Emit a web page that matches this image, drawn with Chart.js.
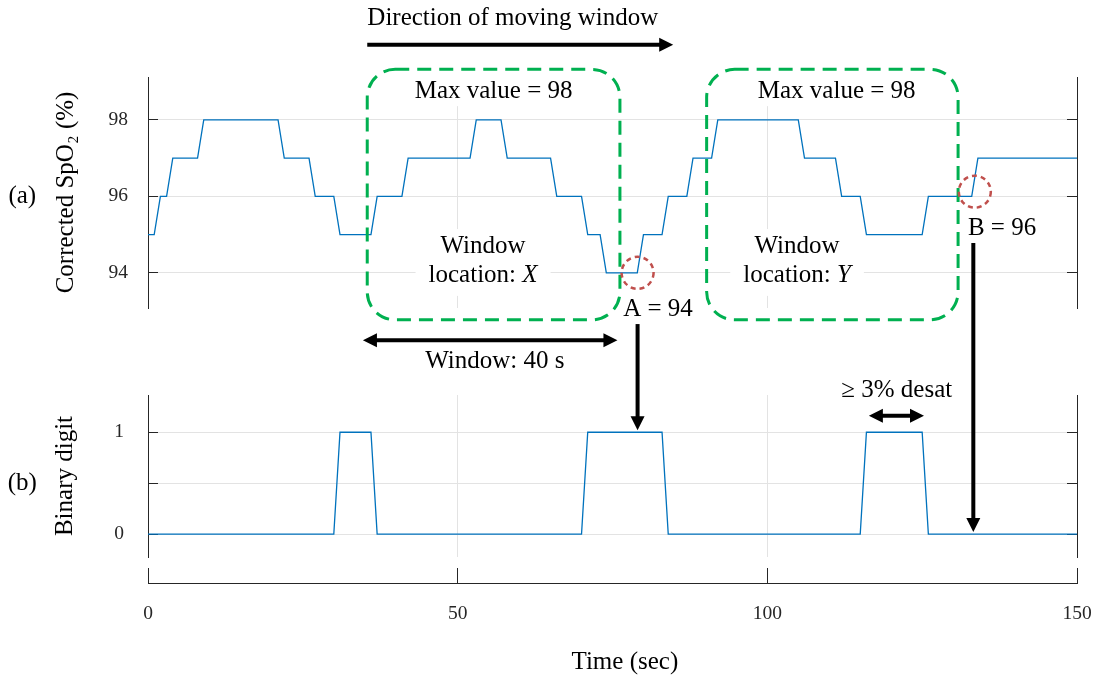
<!DOCTYPE html>
<html lang="en">
<head>
<meta charset="UTF-8">
<title>Moving-window desaturation detection</title>
<script src="https://cdn.jsdelivr.net/npm/chart.js"></script>
<style>
    * { margin: 0; padding: 0; box-sizing: border-box; }
    body { background: #fff; width: 1104px; height: 675px; overflow: hidden; }
    .stage { position: relative; width: 1104px; height: 675px; }
    .stage canvas { position: absolute; left: 0; top: 0; }
</style>
</head>
<body>
<div class="stage">
    <canvas id="time-axis" width="1104" height="675"></canvas>
    <canvas id="binary-chart" width="1104" height="675"></canvas>
    <canvas id="spo2-chart" width="1104" height="675"></canvas>
</div>

<script>
// Corrected SpO2 (%), one sample per second, t = 0..150 s
const spo2 = [
    95, 95, 96, 96, 97, 97, 97, 97, 97, 98, 98, 98, 98, 98, 98, 98, 98, 98, 98, 98, 98, 98, 97, 97, 97,
    97, 97, 96, 96, 96, 96, 95, 95, 95, 95, 95, 95, 96, 96, 96, 96, 96, 97, 97, 97, 97, 97, 97, 97, 97,
    97, 97, 97, 98, 98, 98, 98, 98, 97, 97, 97, 97, 97, 97, 97, 97, 96, 96, 96, 96, 96, 95, 95, 95, 94,
    94, 94, 94, 94, 94, 95, 95, 95, 95, 96, 96, 96, 96, 97, 97, 97, 97, 98, 98, 98, 98, 98, 98, 98, 98,
    98, 98, 98, 98, 98, 98, 97, 97, 97, 97, 97, 97, 96, 96, 96, 96, 95, 95, 95, 95, 95, 95, 95, 95, 95,
    95, 96, 96, 96, 96, 96, 96, 96, 96, 97, 97, 97, 97, 97, 97, 97, 97, 97, 97, 97, 97, 97, 97, 97, 97,
    97
];

// Desaturation flag (1 = at least 3 % below the window max), same time base
const binaryDigit = [
    0, 0, 0, 0, 0, 0, 0, 0, 0, 0, 0, 0, 0, 0, 0, 0, 0, 0, 0, 0, 0, 0, 0, 0, 0,
    0, 0, 0, 0, 0, 0, 1, 1, 1, 1, 1, 1, 0, 0, 0, 0, 0, 0, 0, 0, 0, 0, 0, 0, 0,
    0, 0, 0, 0, 0, 0, 0, 0, 0, 0, 0, 0, 0, 0, 0, 0, 0, 0, 0, 0, 0, 1, 1, 1, 1,
    1, 1, 1, 1, 1, 1, 1, 1, 1, 0, 0, 0, 0, 0, 0, 0, 0, 0, 0, 0, 0, 0, 0, 0, 0,
    0, 0, 0, 0, 0, 0, 0, 0, 0, 0, 0, 0, 0, 0, 0, 0, 1, 1, 1, 1, 1, 1, 1, 1, 1,
    1, 0, 0, 0, 0, 0, 0, 0, 0, 0, 0, 0, 0, 0, 0, 0, 0, 0, 0, 0, 0, 0, 0, 0, 0,
    0
];

const timeTicks = [0, 50, 100, 150];
const spo2Ticks = [94, 96, 98];
const binaryTicks = [0, 0.5, 1];

const windowSec = 40;
const desatThreshold = 3;

// annotation placement, in the data units of each panel
const windowBoxes = [
    { from: 35.4, to: 76.2, maxAt: 55.8, textAt: 54.1, name: 'X' },
    { from: 90.2, to: 130.8, maxAt: 111.2, textAt: 104.8, name: 'Y' }
];
const pointA = { t: 79, label: 'A', circleAt: 79.05, textAt: 82.35 };
const pointB = { t: 133, label: 'B', circleAt: 133.5, textAt: 137.9 };

const SERIF = '"Liberation Serif", "Times New Roman", serif';
const AXIS = '#262626';
const GRID = '#e3e3e3';
const LINE = '#0072bd';
const GREEN = '#00b050';
const RED = '#c0504d';
const FONT = '25px ' + SERIF;
const TICK_SIZE = 19.5;

Chart.defaults.font.family = SERIF;
Chart.defaults.color = AXIS;
Chart.defaults.animation = false;
Chart.defaults.responsive = false;
Chart.defaults.devicePixelRatio = 1;
Chart.defaults.plugins.legend.display = false;
Chart.defaults.plugins.tooltip.enabled = false;

const toPoints = arr => arr.map((v, i) => ({ x: i, y: v }));
const fixTicks = values => scale => { scale.ticks = values.map(v => ({ value: v })); };
const innerTime = timeTicks.filter(v => v > timeTicks[0] && v < timeTicks[timeTicks.length - 1]);

// shared layout of one panel: left/right y axes with inward ticks, x grid only
function panelOptions(o) {
    return {
        layout: { padding: { left: 0, right: 0, top: o.top, bottom: 675 - o.bottom } },
        scales: {
            x: {
                type: 'linear', min: 0, max: 150,
                afterBuildTicks: fixTicks(innerTime),
                afterFit: s => { s.height = 0; },
                ticks: { display: false },
                border: { display: false },
                grid: { color: GRID, drawTicks: false }
            },
            y: {
                type: 'linear', position: 'left', min: o.min, max: o.max,
                afterBuildTicks: fixTicks(o.ticks),
                afterFit: s => { s.width = 148; },
                ticks: { font: { size: TICK_SIZE }, color: AXIS, padding: o.tickPad, callback: o.format },
                border: { color: AXIS, width: 1 },
                grid: { color: GRID, tickColor: AXIS, tickLength: -10 },
                title: {
                    display: true, text: o.title, color: '#000',
                    font: { size: 25, lineHeight: 1.2 }, padding: { top: o.titlePad, bottom: 0 }
                }
            },
            yRight: {
                type: 'linear', position: 'right', min: o.min, max: o.max,
                afterBuildTicks: fixTicks(o.ticks),
                afterFit: s => { s.width = 27; },
                ticks: { display: false },
                border: { color: AXIS, width: 1 },
                grid: { drawOnChartArea: false, tickColor: AXIS, tickLength: -10 }
            }
        }
    };
}

function lineSet(values) {
    return {
        data: toPoints(values),
        borderColor: LINE,
        borderWidth: 1.3,
        pointRadius: 0,
        tension: 0,
        xAxisID: 'x',
        yAxisID: 'y'
    };
}

// detached time axis under panel (b)
const timeAxis = new Chart(document.getElementById('time-axis'), {
    type: 'line',
    data: { datasets: [] },
    options: {
        layout: { padding: { left: 148, right: 27, top: 568, bottom: 0 } },
        scales: {
            x: {
                type: 'linear', min: 0, max: 150,
                afterBuildTicks: fixTicks(timeTicks),
                afterFit: s => { s.height = 92; s.paddingLeft = 0; s.paddingRight = 0; },
                ticks: { font: { size: TICK_SIZE }, color: AXIS, padding: 19, maxRotation: 0 },
                border: { color: AXIS, width: 1 },
                grid: { color: AXIS, drawTicks: false, lineWidth: 1 }
            },
            y: { display: false, min: 0, max: 1 }
        }
    }
});

const binaryChart = new Chart(document.getElementById('binary-chart'), {
    type: 'line',
    data: { datasets: [lineSet(binaryDigit)] },
    options: panelOptions({
        top: 395, bottom: 557, min: -0.225, max: 1.366,
        ticks: binaryTicks, tickPad: 34, titlePad: 50,
        title: 'Binary digit',
        format: v => (v === 0 || v === 1) ? String(v) : ''
    })
});

// ---- overlay helpers ----
function label(ctx, str, x, y, italic) {
    ctx.font = (italic ? 'italic ' : '') + FONT;
    ctx.fillText(str, x, y);
}

function locationWidth(ctx, name) {
    ctx.font = FONT;
    const w1 = ctx.measureText('location: ').width;
    ctx.font = 'italic ' + FONT;
    return w1 + ctx.measureText(name).width;
}

function drawLocation(ctx, cx, y1, y2, name) {
    ctx.textAlign = 'center';
    label(ctx, 'Window', cx, y1);
    const w = locationWidth(ctx, name);
    ctx.textAlign = 'left';
    ctx.font = FONT;
    const w1 = ctx.measureText('location: ').width;
    label(ctx, 'location: ', cx - w / 2, y2);
    label(ctx, name, cx - w / 2 + w1, y2, true);
    ctx.textAlign = 'center';
}

function head(ctx, x, y, ang) {
    const L = 14, W = 7;
    const bx = x - L * Math.cos(ang), by = y - L * Math.sin(ang);
    ctx.beginPath();
    ctx.moveTo(x, y);
    ctx.lineTo(bx - W * Math.sin(ang), by + W * Math.cos(ang));
    ctx.lineTo(bx + W * Math.sin(ang), by - W * Math.cos(ang));
    ctx.closePath();
    ctx.fill();
}

function arrow(ctx, x1, y1, x2, y2, both) {
    const ang = Math.atan2(y2 - y1, x2 - x1);
    const c = Math.cos(ang) * 10, s = Math.sin(ang) * 10;
    ctx.save();
    ctx.strokeStyle = '#000';
    ctx.fillStyle = '#000';
    ctx.lineWidth = 4;
    ctx.beginPath();
    ctx.moveTo(both ? x1 + c : x1, both ? y1 + s : y1);
    ctx.lineTo(x2 - c, y2 - s);
    ctx.stroke();
    head(ctx, x2, y2, ang);
    if (both) head(ctx, x1, y1, ang + Math.PI);
    ctx.restore();
}

function dottedCircle(ctx, x, y) {
    ctx.save();
    ctx.strokeStyle = RED;
    ctx.lineWidth = 2.5;
    ctx.setLineDash([5, 4]);
    ctx.beginPath();
    ctx.arc(x, y, 16, 0, Math.PI * 2);
    ctx.stroke();
    ctx.restore();
}

const windowMax = b => Math.max(...spo2.slice(Math.ceil(b.from), Math.floor(b.to) + 1));

const overlay = {
    id: 'overlay',
    // white backing behind the in-panel texts, hiding the grid lines there
    beforeDatasetsDraw(chart) {
        const { ctx } = chart;
        const X = v => chart.scales.x.getPixelForValue(v);
        const Y = v => chart.scales.y.getPixelForValue(v);
        ctx.save();
        ctx.fillStyle = '#fff';
        windowBoxes.forEach(b => {
            ctx.font = FONT;
            const mw = ctx.measureText('Max value = ' + windowMax(b)).width;
            ctx.fillRect(X(b.maxAt) - mw / 2 - 10, Y(98.75) - 16, mw + 20, 31);
            const lw = locationWidth(ctx, b.name);
            const top = Y(94.70) - 17, bottom = Y(93.92) + 20;
            ctx.fillRect(X(b.textAt) - lw / 2 - 13, top, lw + 26, bottom - top);
        });
        ctx.restore();
    },
    afterDatasetsDraw(chart) {
        const { ctx } = chart;
        const X = v => chart.scales.x.getPixelForValue(v);
        const Y = v => chart.scales.y.getPixelForValue(v);
        const YB = v => binaryChart.scales.y.getPixelForValue(v);

        ctx.save();
        ctx.fillStyle = '#000';
        ctx.textAlign = 'center';
        ctx.textBaseline = 'middle';

        // moving windows
        windowBoxes.forEach(b => {
            ctx.save();
            ctx.strokeStyle = GREEN;
            ctx.lineWidth = 3;
            ctx.setLineDash([14, 8]);
            ctx.beginPath();
            ctx.roundRect(X(b.from), Y(99.32), X(b.to) - X(b.from), Y(92.77) - Y(99.32), 28);
            ctx.stroke();
            ctx.restore();
            label(ctx, 'Max value = ' + windowMax(b), X(b.maxAt), Y(98.75));
            drawLocation(ctx, X(b.textAt), Y(94.70), Y(93.92), b.name);
        });

        label(ctx, 'Direction of moving window', X(58.9), Y(100.66));
        arrow(ctx, X(35.4), Y(99.96), X(84.8), Y(99.96), false);

        arrow(ctx, X(34.7), Y(92.24), X(75.8), Y(92.24), true);
        label(ctx, 'Window: ' + windowSec + ' s', X(56.0), Y(91.67));

        // samples compared against the window maximum
        dottedCircle(ctx, X(pointA.circleAt), Y(spo2[pointA.t]));
        label(ctx, pointA.label + ' = ' + spo2[pointA.t], X(pointA.textAt), Y(93.03));
        arrow(ctx, X(pointA.circleAt), Y(92.66), X(pointA.circleAt), YB(binaryDigit[pointA.t]) - 2, false);

        dottedCircle(ctx, X(pointB.circleAt), Y(spo2[pointB.t] + 0.12));
        label(ctx, pointB.label + ' = ' + spo2[pointB.t], X(pointB.textAt), Y(95.17));
        arrow(ctx, X(133.26), Y(94.78), X(133.26), YB(binaryDigit[pointB.t]) - 2, false);

        label(ctx, '\u2265 ' + desatThreshold + '% desat', X(120.9), YB(1.415));
        arrow(ctx, X(116.4), YB(1.163), X(125.3), YB(1.163), true);

        // panel tags and time axis title
        label(ctx, '(a)', X(-20.3), Y(96));
        label(ctx, '(b)', X(-20.3), YB(0.5));
        label(ctx, 'Time (sec)', X(77), timeAxis.chartArea.bottom + 79);
        ctx.restore();
    }
};

const spo2Chart = new Chart(document.getElementById('spo2-chart'), {
    type: 'line',
    data: { datasets: [lineSet(spo2)] },
    options: panelOptions({
        top: 77, bottom: 308, min: 93.08, max: 99.12,
        ticks: spo2Ticks, tickPad: 30, titlePad: 51,
        title: 'Corrected SpO\u2082 (%)'
    }),
    plugins: [overlay]
});
</script>
</body>
</html>
